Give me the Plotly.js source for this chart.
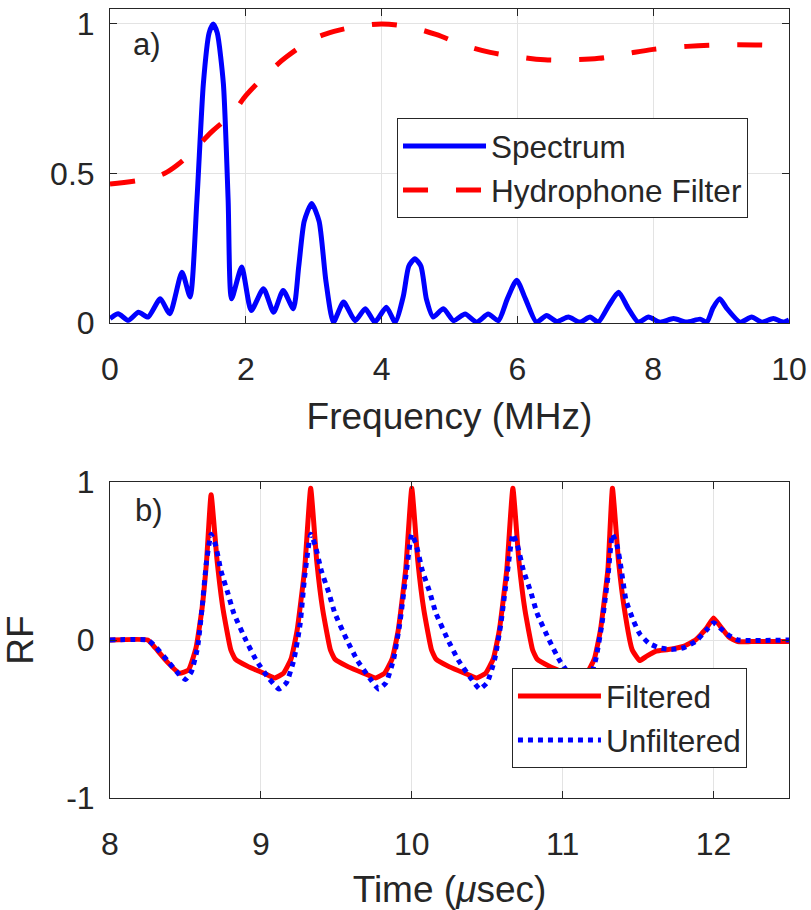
<!DOCTYPE html>
<html>
<head>
<meta charset="utf-8">
<script src="https://cdn.plot.ly/plotly-3.0.1.min.js"></script>
<style>html,body{margin:0;padding:0;background:#fff;}</style>
</head>
<body>
<div id="chart" style="width:811px;height:910px;"></div>
<script>
// ---- Panel a) : spectrum and hydrophone filter ----
const freqSpectrum = [0, 0.12, 0.27, 0.42, 0.56, 0.74, 0.88, 1.06, 1.18, 1.28, 1.375, 1.46, 1.52, 1.58, 1.67, 1.74, 1.79, 1.94, 2.08, 2.26, 2.41, 2.55, 2.70, 2.78, 2.86, 2.97, 3.08, 3.18, 3.29, 3.44, 3.61, 3.76, 3.90, 4.07, 4.20, 4.32, 4.40, 4.49, 4.58, 4.66, 4.76, 4.91, 5.06, 5.23, 5.40, 5.57, 5.72, 5.85, 5.99, 6.12, 6.28, 6.43, 6.58, 6.75, 6.92, 7.07, 7.19, 7.35, 7.49, 7.63, 7.78, 7.93, 8.10, 8.30, 8.49, 8.69, 8.79, 8.88, 8.98, 9.08, 9.28, 9.45, 9.60, 9.77, 9.92, 10];
const spectrum     = [0.015, 0.031, 0.009, 0.036, 0.02, 0.081, 0.031, 0.17, 0.087, 0.41, 0.80, 0.97, 1.0, 0.97, 0.80, 0.41, 0.081, 0.187, 0.042, 0.115, 0.036, 0.109, 0.048, 0.19, 0.34, 0.40, 0.34, 0.14, 0.003, 0.07, 0.008, 0.048, 0.003, 0.053, 0.003, 0.09, 0.19, 0.215, 0.19, 0.08, 0.02, 0.048, 0.008, 0.03, 0.003, 0.03, 0.008, 0.08, 0.143, 0.08, 0.003, 0.025, 0.005, 0.02, 0.003, 0.02, 0.003, 0.06, 0.103, 0.05, 0.003, 0.02, 0.003, 0.015, 0.003, 0.013, 0.003, 0.05, 0.081, 0.05, 0.003, 0.02, 0.003, 0.015, 0.003, 0.01];

const freqFilter = [0, 0.5, 0.8, 1.0, 1.2, 1.5, 1.8, 2.0, 2.3, 2.6, 3.0, 3.3, 3.6, 4.0, 4.4, 4.8, 5.2, 5.6, 6.0, 6.4, 6.8, 7.2, 7.6, 8.0, 8.5, 9.0, 9.5, 10];
const hydrophoneFilter = [0.465, 0.48, 0.50, 0.53, 0.57, 0.64, 0.70, 0.76, 0.83, 0.89, 0.95, 0.975, 0.99, 1.0, 0.99, 0.965, 0.93, 0.905, 0.89, 0.88, 0.88, 0.885, 0.90, 0.915, 0.925, 0.93, 0.93, 0.925];

// ---- Panel b) : RF signals ----
const timeFiltered = [8.0, 8.25, 8.30, 8.38, 8.46, 8.52, 8.57, 8.61, 8.64, 8.67, 8.71, 8.75, 8.80, 8.83, 8.92, 9.02, 9.09, 9.15, 9.20, 9.24, 9.29, 9.33, 9.37, 9.41, 9.46, 9.49, 9.58, 9.68, 9.76, 9.82, 9.87, 9.91, 9.96, 10.00, 10.04, 10.08, 10.13, 10.16, 10.25, 10.35, 10.43, 10.49, 10.54, 10.58, 10.63, 10.67, 10.71, 10.75, 10.80, 10.83, 10.92, 11.02, 11.10, 11.16, 11.21, 11.25, 11.30, 11.33, 11.37, 11.41, 11.46, 11.51, 11.56, 11.62, 11.70, 11.80, 11.88, 11.95, 12.00, 12.05, 12.10, 12.16, 12.25, 12.5];
const filtered     = [0, 0, -0.05, -0.14, -0.21, -0.19, -0.05, 0.2, 0.5, 0.92, 0.5, 0.19, -0.06, -0.12, -0.17, -0.21, -0.24, -0.21, -0.12, 0.06, 0.45, 0.96, 0.5, 0.19, -0.06, -0.12, -0.17, -0.21, -0.24, -0.21, -0.12, 0.06, 0.45, 0.96, 0.5, 0.19, -0.06, -0.12, -0.17, -0.21, -0.24, -0.21, -0.12, 0.06, 0.45, 0.96, 0.5, 0.19, -0.06, -0.12, -0.17, -0.21, -0.24, -0.21, -0.12, 0.06, 0.45, 0.96, 0.5, 0.19, -0.06, -0.13, -0.1, -0.07, -0.06, -0.04, 0.0, 0.07, 0.14, 0.08, 0.02, -0.01, -0.01, -0.01];

const timeUnfiltered = [8.0, 8.25, 8.30, 8.38, 8.45, 8.50, 8.54, 8.58, 8.61, 8.64, 8.67, 8.70, 8.735, 8.78, 8.82, 8.90, 8.97, 9.05, 9.12, 9.17, 9.22, 9.26, 9.29, 9.33, 9.36, 9.40, 9.45, 9.49, 9.57, 9.64, 9.72, 9.78, 9.83, 9.88, 9.92, 9.96, 10.00, 10.03, 10.07, 10.12, 10.16, 10.24, 10.31, 10.39, 10.45, 10.50, 10.55, 10.59, 10.63, 10.67, 10.70, 10.74, 10.79, 10.83, 10.91, 10.98, 11.06, 11.12, 11.17, 11.22, 11.26, 11.30, 11.33, 11.36, 11.38, 11.42, 11.47, 11.51, 11.57, 11.64, 11.72, 11.80, 11.88, 11.95, 12.00, 12.05, 12.10, 12.16, 12.5];
const unfiltered     = [0, 0, -0.04, -0.13, -0.21, -0.25, -0.2, -0.05, 0.2, 0.5, 0.67, 0.6, 0.44, 0.3, 0.17, 0.0, -0.13, -0.24, -0.31, -0.27, -0.12, 0.1, 0.4, 0.67, 0.6, 0.44, 0.3, 0.17, 0.0, -0.13, -0.24, -0.31, -0.27, -0.12, 0.1, 0.4, 0.67, 0.6, 0.44, 0.3, 0.17, 0.0, -0.13, -0.24, -0.31, -0.27, -0.12, 0.1, 0.4, 0.67, 0.6, 0.44, 0.3, 0.17, 0.0, -0.13, -0.24, -0.31, -0.27, -0.12, 0.1, 0.4, 0.67, 0.6, 0.5, 0.25, 0.12, 0.04, -0.02, -0.05, -0.06, -0.05, -0.01, 0.06, 0.11, 0.07, 0.03, 0.0, 0.0];

const xTicksA = [0, 2, 4, 6, 8, 10];
const yTicksA = [0, 0.5, 1];
const yTickTextA = ['0', '0.5', '1'];
const xTicksB = [8, 9, 10, 11, 12];
const yTicksB = [-1, 0, 1];
const yTickTextB = ['-1', '0', '1'];

const FONT = 'Liberation Sans, Arial, Helvetica, sans-serif';
const INK = '#262626';

const traces = [
  {x: freqSpectrum, y: spectrum, xaxis: 'x', yaxis: 'y', mode: 'lines', name: 'Spectrum',
   line: {color: '#0000ff', width: 5, shape: 'spline', smoothing: 0.6}, legend: 'legend'},
  {x: freqFilter, y: hydrophoneFilter, xaxis: 'x', yaxis: 'y', mode: 'lines', name: 'Hydrophone Filter',
   line: {color: '#ff0000', width: 5, dash: '25px,28px', shape: 'spline'}, legend: 'legend'},
  {x: timeFiltered, y: filtered, xaxis: 'x2', yaxis: 'y2', mode: 'lines', name: 'Filtered',
   line: {color: '#ff0000', width: 5, shape: 'spline', smoothing: 0.4}, legend: 'legend2'},
  {x: timeUnfiltered, y: unfiltered, xaxis: 'x2', yaxis: 'y2', mode: 'lines', name: 'Unfiltered',
   line: {color: '#0000ff', width: 5, dash: 'dot', shape: 'spline', smoothing: 0.4}, legend: 'legend2'}
];

const axisCommon = {
  showline: true, linecolor: INK, linewidth: 1, mirror: 'ticks',
  ticks: 'inside', ticklen: 7, tickcolor: INK, tickwidth: 1,
  showgrid: true, gridcolor: '#e3e3e3', gridwidth: 1, zeroline: false,
  tickfont: {family: FONT, size: 32, color: INK}
};
const TITLEFONT = {family: FONT, size: 37, color: INK};

const layout = {
  width: 811, height: 910,
  margin: {l: 110, r: 22, t: 9, b: 112},
  paper_bgcolor: '#fff', plot_bgcolor: '#fff',
  font: {family: FONT, color: INK},
  showlegend: true,
  xaxis: Object.assign({}, axisCommon, {domain: [0, 1], range: [0, 10], tickvals: xTicksA, anchor: 'y',
    ticklabelstandoff: 18, title: {text: 'Frequency (MHz)', font: TITLEFONT, standoff: 16}}),
  yaxis: Object.assign({}, axisCommon, {domain: [0.602, 1], range: [0, 1.05], tickvals: yTicksA, ticktext: yTickTextA, anchor: 'x',
    ticklabelstandoff: 8}),
  xaxis2: Object.assign({}, axisCommon, {domain: [0, 1], range: [8, 12.5], tickvals: xTicksB, anchor: 'y2',
    ticklabelstandoff: 18, title: {text: 'Time (<i>μ</i>sec)', font: TITLEFONT, standoff: 16}}),
  yaxis2: Object.assign({}, axisCommon, {domain: [0, 0.4005], range: [-1, 1], tickvals: yTicksB, ticktext: yTickTextB, anchor: 'x2',
    ticklabelstandoff: 8, title: {text: 'RF', font: TITLEFONT, standoff: 22}}),
  legend: {x: 0.4227, y: 0.8618, xanchor: 'left', yanchor: 'top', bgcolor: '#fff', bordercolor: INK, borderwidth: 1,
    font: {family: FONT, size: 31.5, color: INK}, itemwidth: 83, tracegroupgap: 0},
  legend2: {x: 0.592, y: 0.1648, xanchor: 'left', yanchor: 'top', bgcolor: '#fff', bordercolor: INK, borderwidth: 1,
    font: {family: FONT, size: 31.5, color: INK}, itemwidth: 83, tracegroupgap: 0},
  annotations: [
    {text: 'a)', x: 0.55, y: 0.93, xref: 'x', yref: 'y', showarrow: false, font: {family: FONT, size: 31, color: INK}},
    {text: 'b)', x: 8.26, y: 0.82, xref: 'x2', yref: 'y2', showarrow: false, font: {family: FONT, size: 31, color: INK}}
  ]
};

Plotly.newPlot('chart', traces, layout, {displayModeBar: false, staticPlot: true});
</script>
</body>
</html>
